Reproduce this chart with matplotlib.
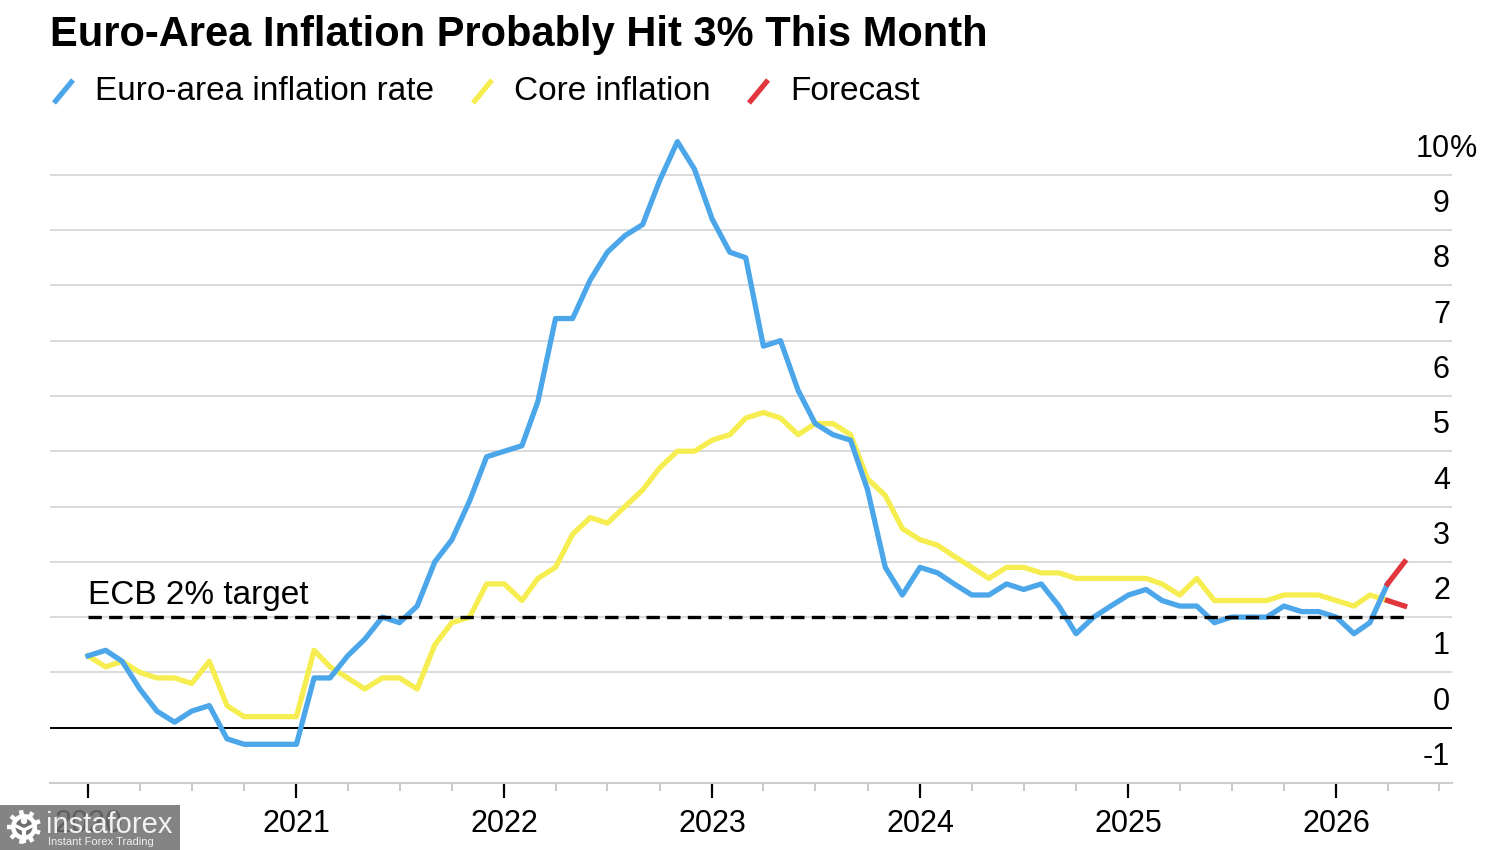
import matplotlib
matplotlib.use('Agg')
import matplotlib.pyplot as plt
import matplotlib.dates as mdates
import matplotlib.transforms as mtransforms
from matplotlib.lines import Line2D
from matplotlib.patches import Rectangle, Circle
import numpy as np
import pandas as pd

plt.rcParams['font.family'] = ['Liberation Sans', 'DejaVu Sans']

# Monthly readings, Dec 2019 .. Mar 2026 (plotted at month end)
months = pd.period_range('2019-12', '2026-03', freq='M')
headline = [1.3,
            1.4, 1.2, 0.7, 0.3, 0.1, 0.3, 0.4, -0.2, -0.3, -0.3, -0.3, -0.3,
            0.9, 0.9, 1.3, 1.6, 2.0, 1.9, 2.2, 3.0, 3.4, 4.1, 4.9, 5.0,
            5.1, 5.9, 7.4, 7.4, 8.1, 8.6, 8.9, 9.1, 9.9, 10.6, 10.1, 9.2,
            8.6, 8.5, 6.9, 7.0, 6.1, 5.5, 5.3, 5.2, 4.3, 2.9, 2.4, 2.9,
            2.8, 2.6, 2.4, 2.4, 2.6, 2.5, 2.6, 2.2, 1.7, 2.0, 2.2, 2.4,
            2.5, 2.3, 2.2, 2.2, 1.9, 2.0, 2.0, 2.0, 2.2, 2.1, 2.1, 2.0,
            1.7, 1.9, 2.6]
core = [1.3,
        1.1, 1.2, 1.0, 0.9, 0.9, 0.8, 1.2, 0.4, 0.2, 0.2, 0.2, 0.2,
        1.4, 1.1, 0.9, 0.7, 0.9, 0.9, 0.7, 1.5, 1.9, 2.0, 2.6, 2.6,
        2.3, 2.7, 2.9, 3.5, 3.8, 3.7, 4.0, 4.3, 4.7, 5.0, 5.0, 5.2,
        5.3, 5.6, 5.7, 5.6, 5.3, 5.5, 5.5, 5.3, 4.5, 4.2, 3.6, 3.4,
        3.3, 3.1, 2.9, 2.7, 2.9, 2.9, 2.8, 2.8, 2.7, 2.7, 2.7, 2.7,
        2.7, 2.6, 2.4, 2.7, 2.3, 2.3, 2.3, 2.3, 2.4, 2.4, 2.4, 2.3,
        2.2, 2.4, 2.3]
forecast_month = pd.Period('2026-04', freq='M')
headline_fc = 3.0
core_fc = 2.2
ecb_target = 2.0
year_ticks = list(range(2020, 2027))
y_levels = list(range(-1, 11))

BLUE = '#4ca6ea'
YELLOW = '#f6ee50'
RED = '#e2363f'

dates = months.to_timestamp(how='end')
fc_date = forecast_month.to_timestamp(how='end')

fig = plt.figure(figsize=(15, 8.5), dpi=100)
fig.patch.set_facecolor('white')

# px helpers for figure layout (1500 x 850 canvas)
def fx(x):
    return x / 1500

def fy(y):
    return 1 - y / 850

ax = fig.add_axes([fx(50), fy(783), fx(1452) - fx(50), fy(125) - fy(783)])

# Title & legend
fig.text(fx(50), fy(35), 'Euro-Area Inflation Probably Hit 3% This Month',
         fontsize=30, fontweight='bold', ha='left', va='center')

legend_items = [('Euro-area inflation rate', BLUE, 54, 95),
                ('Core inflation', YELLOW, 473, 514),
                ('Forecast', RED, 749, 790)]
for label, color, sx, tx in legend_items:
    fig.add_artist(Line2D([fx(sx), fx(sx + 19)], [fy(103), fy(80)],
                          color=color, lw=3.8, solid_capstyle='butt',
                          transform=fig.transFigure))
    fig.text(fx(tx), fy(91), label, fontsize=24, ha='left', va='center')

# Series
ax.plot(dates, core, color=YELLOW, lw=3.8, zorder=3)
ax.plot(dates, headline, color=BLUE, lw=3.8, zorder=4)
ax.plot([dates[-1], fc_date], [core[-1], core_fc], color=RED, lw=3.8, zorder=5)
ax.plot([dates[-1], fc_date], [headline[-1], headline_fc], color=RED, lw=3.8, zorder=5)

# ECB target
ax.plot([dates[0], fc_date], [ecb_target, ecb_target], color='black', lw=2.4,
        ls=(0, (4, 2.2)), zorder=4.5)
ax.text(dates[0], ecb_target + 0.39, 'ECB 2% target', fontsize=24,
        ha='left', va='center', zorder=6)

ax.axhline(0, color='black', lw=1.4, zorder=2)

# Axes styling
t2020 = mdates.date2num(pd.Timestamp('2020-01-01'))
ax.set_xlim(t2020 - 38 / 208 * 365.25, t2020 + (1452 - 88) / 208 * 365.25)
ax.set_ylim(-1, 10.9)

ax.set_yticks(y_levels)
ax.yaxis.grid(True, color='#d4d4d4', lw=1.2)
ax.set_axisbelow(True)
ax.tick_params(axis='y', length=0, labelleft=False, labelright=False)

ax.set_xticks([pd.Timestamp(f'{y}-01-01') for y in year_ticks])
ax.set_xticklabels([str(y) for y in year_ticks])
ax.xaxis.set_minor_locator(mdates.MonthLocator(bymonth=[4, 7, 10]))
ax.tick_params(axis='x', which='major', length=11, width=1.6, color='black',
               labelsize=22, pad=8)
ax.tick_params(axis='x', which='minor', length=5.5, width=1.3, color='#c4c4c4')

for side in ['top', 'left', 'right']:
    ax.spines[side].set_visible(False)
ax.spines['bottom'].set_color('#cccccc')
ax.spines['bottom'].set_linewidth(1.5)

# Right-hand value labels, sitting above their gridlines
trans = mtransforms.blended_transform_factory(ax.transAxes, ax.transData)
lx = (1450 - 50) / 1402
for v in y_levels:
    ax.text(lx, v + 0.47, str(v), transform=trans, fontsize=22,
            ha='right', va='center')
ax.text(lx, y_levels[-1] + 0.47, '%', transform=trans, fontsize=22,
        ha='left', va='center')

# Watermark box bottom-left (semi-transparent, the 2020 label shows through)
GREY = '#707070'
lax = fig.add_axes([0, 0, fx(180), 45 / 850])
lax.set_xlim(0, 180)
lax.set_ylim(0, 45)
lax.axis('off')
lax.add_patch(Rectangle((0, 0), 180, 45, facecolor=GREY, alpha=0.86,
                        edgecolor='none'))
# gear: teeth, ring, little figure inside
gx, gy = 24, 23
for ang in np.arange(0, 360, 40) + 20:
    a = np.deg2rad(ang)
    lax.plot([gx + 12 * np.cos(a), gx + 17 * np.cos(a)],
             [gy + 12 * np.sin(a), gy + 17 * np.sin(a)],
             color='white', lw=3.2, solid_capstyle='butt')
lax.add_patch(Circle((gx, gy), 13, facecolor='white', edgecolor='none'))
lax.add_patch(Circle((gx, gy), 8.5, facecolor=GREY, edgecolor='none'))
lax.add_patch(Circle((gx, gy + 6), 3.2, facecolor='white', edgecolor='none'))
lax.plot([gx - 8, gx, gx + 8], [gy + 1, gy - 3, gy + 1], color='white', lw=2.4)
lax.plot([gx, gx], [gy - 3, gy - 14], color='white', lw=3.0)
lax.text(46, 25, 'instaforex', color='#f2f2f2', fontsize=21, ha='left', va='center')
lax.text(48, 8, 'Instant Forex Trading', color='#eeeeee', fontsize=8,
         ha='left', va='center')

fig.savefig('out.png', dpi=100, facecolor='white')
